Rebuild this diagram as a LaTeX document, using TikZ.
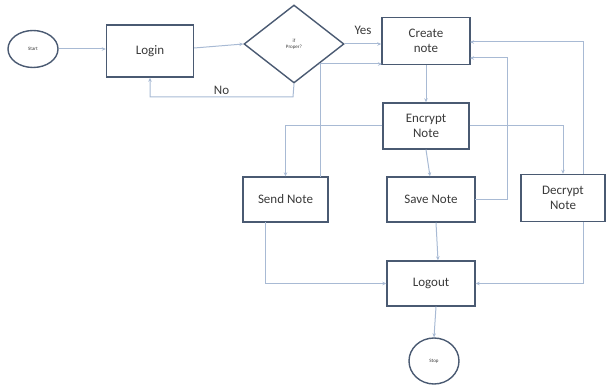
\documentclass[tikz,border=0pt]{standalone}
\usepackage{fontspec}
\setmainfont{Carlito}
\usetikzlibrary{shapes.geometric,arrows.meta,calc}
\definecolor{boxline}{HTML}{4A5A72}
\definecolor{flowline}{HTML}{A8BAD4}
\definecolor{txt}{HTML}{3A3A3A}
\tikzset{
  procbox/.style={draw=boxline,line width=1.4pt,fill=white,minimum width=86pt,minimum height=46pt,
    align=center,font=\fontsize{13}{15}\selectfont,text=txt,inner sep=0pt},
  termnode/.style={draw=boxline,line width=1.4pt,fill=white,ellipse,inner sep=0pt,
    font=\fontsize{5}{6}\selectfont,text=txt},
  decnode/.style={draw=boxline,line width=1.4pt,fill=white,diamond,aspect=1.28,inner sep=0pt,
    minimum width=100pt,minimum height=78pt,align=center,font=\fontsize{5}{6}\selectfont,text=txt},
  flow/.style={draw=flowline,line width=1pt,-{Stealth[length=4pt,width=3.5pt]}},
  plain/.style={draw=flowline,line width=1pt},
  lbl/.style={font=\fontsize{13}{15}\selectfont,text=txt}
}
\begin{document}
\begin{tikzpicture}[x=1pt,y=-1pt]
\useasboundingbox (0,0) rectangle (608,387);

% terminals, decision and process steps
\node[termnode,minimum width=50pt,minimum height=37pt] (start) at (33,49) {Start};
\node[procbox,minimum width=87pt,minimum height=52pt] (login) at (150,51) {Login};
\node[decnode] (dec) at (294,44) {if\\Proper?};
\node[procbox,minimum width=88pt,minimum height=47pt] (create) at (426,41) {Create\\note};
\node[procbox,minimum width=86pt,minimum height=46pt] (encrypt) at (426,126) {Encrypt\\Note};
\node[procbox,minimum width=85pt,minimum height=45pt] (send) at (285.5,199.5) {Send Note};
\node[procbox,minimum width=88pt,minimum height=45pt] (save) at (431,199.5) {Save Note};
\node[procbox,minimum width=84pt,minimum height=47pt] (decrypt) at (563,198) {Decrypt\\Note};
\node[procbox,minimum width=88pt,minimum height=45pt] (logout) at (431,283.5) {Logout};
\node[termnode,minimum width=50pt,minimum height=46pt] (stop) at (434,361) {Stop};

% helper points for the routed connectors
\coordinate (nodown) at (293,97);
\coordinate (sendup) at (320,177);
\coordinate (crin) at (382,64);
\coordinate (decedge) at ($(dec.east)!0.5!(dec.south)$);
\coordinate (saveout) at (475,200);
\coordinate (savein) at (470,58);
\coordinate (decrin) at (470,42);
\coordinate (sendbot) at (265,222);

% main flow
\draw[flow] (start) -- (start -| login.west);
\draw[flow] (login.east |- 0,48) -- (dec.west);
\draw[flow] (dec.east) -- (dec.east -| create.west) node[lbl,midway,above=6pt] {Yes};
\draw[flow] (dec.south) -- (nodown) -| (login.south) node[lbl,pos=0.25,above=-1pt] {No};
\draw[flow] (create.south) -- (encrypt.north);

% encryption branches
\draw[flow] (encrypt.west) -| (send.north);
\draw[flow] (encrypt.east) -| (decrypt.north);
\draw[flow] (encrypt.south) -- (save.north -| 430,0);

% returns to note creation
\draw[plain] (decedge) -- (sendup |- crin);
\draw[flow] (sendup) |- (crin);
\draw[flow] (saveout) -| (507,58) -- (savein);
\draw[flow] (decrypt.north -| 583,0) |- (decrin);

% to logout and stop
\draw[flow] (sendbot) |- (logout.west);
\draw[flow] (decrypt.south -| 583,0) |- (logout.east);
\draw[flow] (save.south -| 436,0) -- (logout.north -| 438,0);
\draw[flow] (logout.south -| 436,0) -- (stop.north);
\end{tikzpicture}
\end{document}
